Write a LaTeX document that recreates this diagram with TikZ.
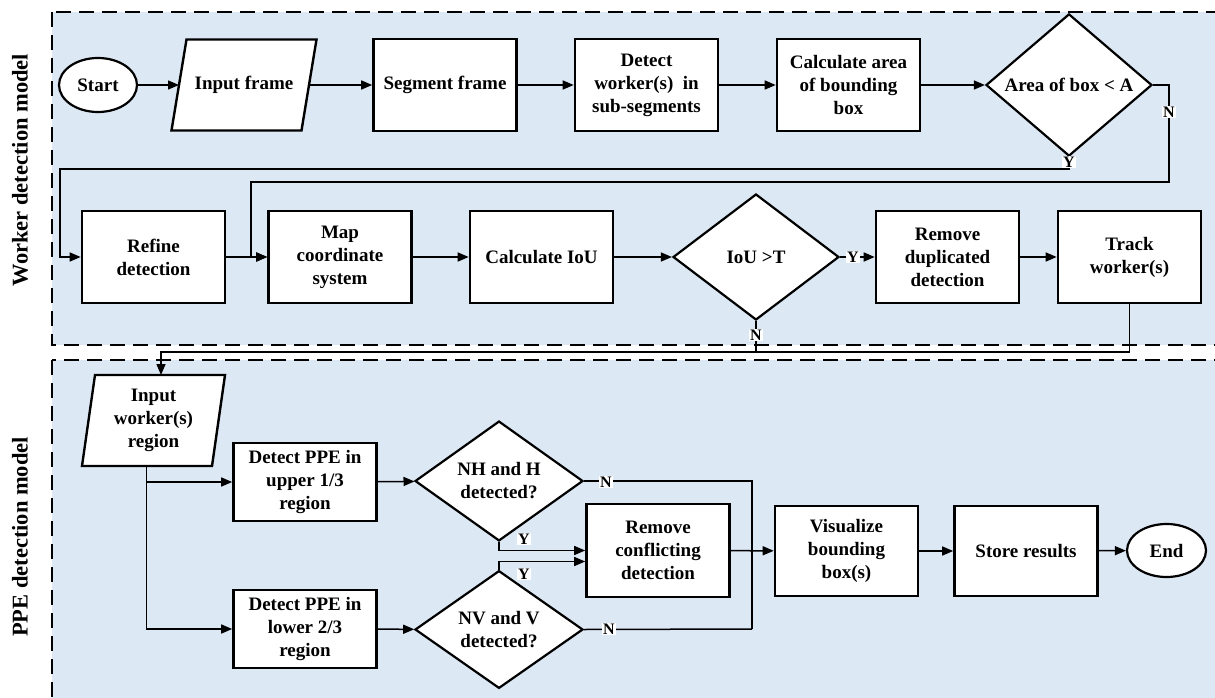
\documentclass[tikz,border=0pt]{standalone}
\usepackage{fontspec}
\setmainfont{Liberation Serif}
\usetikzlibrary{arrows.meta,shapes.geometric}
\definecolor{panelblue}{RGB}{221,232,245}
\pgfdeclarelayer{bg}
\pgfdeclarelayer{mid}
\pgfsetlayers{bg,mid,main}
\newcommand\bftxt{\fontsize{19}{23}\selectfont\bfseries}
\newcommand\yntxt{\fontsize{16}{18}\selectfont\bfseries}
\newcommand\sidetxt{\fontsize{22.5}{26}\selectfont\bfseries}
\begin{document}
\begin{tikzpicture}[x=1pt,y=-1pt,
  panel/.style={draw=black, fill=panelblue, line width=2.6pt, dash pattern=on 15pt off 8pt},
  box/.style={draw, fill=white, line width=2.6pt, minimum width=143pt, minimum height=92pt, inner sep=2pt, align=center, font=\bftxt},
  para/.style={draw=none, minimum width=130pt, minimum height=91pt, inner sep=0pt, outer sep=0pt, align=center, font=\bftxt},
  paraline/.style={draw, fill=white, line width=2.4pt, line join=miter},
  dec/.style={diamond, draw, fill=white, line width=2.2pt, inner sep=0pt, align=center, font=\bftxt},
  term/.style={ellipse, draw, fill=white, line width=2.2pt, minimum width=78pt, minimum height=54pt, inner sep=0pt, font=\bftxt},
  arr/.style={-{Triangle[length=11pt,width=9pt]}, line width=1.5pt},
  con/.style={line width=1.5pt},
  yn/.style={fill=white, inner sep=1pt, font=\yntxt},
  side/.style={rotate=90, font=\sidetxt}
]
\useasboundingbox (0,0) rectangle (1215,698);

\begin{pgfonlayer}{bg}
  \fill[white] (0,0) rectangle (1215,698);
  \draw[panel] (52,12) rectangle (1235,345);
  \draw[panel] (52,360) rectangle (1235,720);
\end{pgfonlayer}

\node[side] (lbl1) at (20,170) {Worker detection model};
\node[side] (lbl2) at (20,537) {PPE detection model};

% Row 1
\node[term] (start) at (98,85) {Start};
\node[para] (inp) at (244,85) {Input frame};
\node[box] (seg) at (445,85) {Segment frame};
\node[box] (det) at (646.5,85) {Detect\\worker(s)~ in\\sub-segments};
\node[box] (area) at (848.5,85) {Calculate area\\of bounding\\box};
\node[dec, minimum width=166pt, minimum height=125pt] (dA) at (1069,85) {Area of box < A};

% Row 2
\node[box] (ref) at (153.5,257) {Refine\\detection};
\node[box] (map) at (340,257) {Map\\coordinate\\system};
\node[box] (iou) at (541.5,257) {Calculate IoU};
\node[dec, minimum width=166pt, minimum height=126pt] (dI) at (756,257) {IoU >T};
\node[box] (rdup) at (947.5,257) {Remove\\duplicated\\detection};
\node[box] (trk) at (1129.5,257) {Track\\worker(s)};

% PPE
\node[para] (inw) at (153.5,420.5) {Input\\worker(s)\\region};
\node[box, minimum height=78pt] (up) at (305,482) {Detect PPE in\\upper 1/3\\region};
\node[box, minimum height=78pt] (low) at (305,629) {Detect PPE in\\lower 2/3\\region};
\node[dec, minimum width=168pt, minimum height=106pt] (dNH) at (499,481) {NH and H\\detected?};
\node[dec, minimum width=168pt, minimum height=106pt] (dNV) at (499,629.5) {NV and V\\detected?};
\node[box, minimum height=93pt] (rc) at (658,550.5) {Remove\\conflicting\\detection};
\node[box, minimum height=90pt] (vis) at (846.5,551) {Visualize\\bounding\\box(s)};
\node[box, minimum height=90pt] (sto) at (1026,551) {Store results};
\node[term, minimum width=79pt, minimum height=53pt] (end) at (1166.5,550.5) {End};

\begin{pgfonlayer}{mid}
  \draw[paraline] ([xshift=-7.5pt]inp.south west) -- ([xshift=-7.5pt]inp.south east) -- ([xshift=7.5pt]inp.north east) -- ([xshift=7.5pt]inp.north west) -- cycle;
  \draw[paraline] ([xshift=-6.5pt]inw.south west) -- ([xshift=-6.5pt]inw.south east) -- ([xshift=6.5pt]inw.north east) -- ([xshift=6.5pt]inw.north west) -- cycle;
\end{pgfonlayer}

% Row 1 connectors
\draw[arr] (start) -- (inp);
\draw[arr] (inp) -- (seg);
\draw[arr] (seg) -- (det);
\draw[arr] (det) -- (area);
\draw[arr] (area) -- (dA);
\draw[arr] (dA.south) |- (60,169) |- (ref.west);
\draw[arr] (dA.east) -| (1169,182) -| (251,257) -- (map.west);
\node[yn] (yA) at (1069,162) {Y};
\node[yn] (nA) at (1169,112) {N};

% Row 2 connectors
\draw[arr] (ref) -- (map);
\draw[arr] (map) -- (iou);
\draw[arr] (iou) -- (dI);
\draw[arr] (dI) -- (rdup);
\node[yn] (yI) at (853,257) {Y};
\draw[arr] (rdup) -- (trk);
\draw[arr] (trk.south) |- (161,352) -- ([xshift=7.5pt]inw.north);
\draw[con] (dI.south) -- (756,352);
\node[yn] (nI) at (756,335) {N};

% PPE connectors
\draw[arr] ([xshift=-7pt]inw.south) |- (up.west);
\draw[arr] ([xshift=-7pt]inw.south) |- (low.west);
\draw[arr] (up) -- (dNH);
\draw[arr] (low) -- (dNV);
\draw[con] (dNH.east) -| (752,629);
\draw[con] (dNV.east) -- (752,629);
\node[yn] (nNH) at (606,482) {N};
\node[yn] (nNV) at (609,629) {N};
\draw[arr] (dNH.south) |- (rc.west);
\draw[arr] (dNV.north) |- ([yshift=-11pt]rc.west);
\node[yn] (yNH) at (524,539) {Y};
\node[yn] (yNV) at (524,574) {Y};
\draw[arr] (rc) -- (vis);
\draw[arr] (vis) -- (sto);
\draw[arr] (sto) -- (end);
\end{tikzpicture}
\end{document}
